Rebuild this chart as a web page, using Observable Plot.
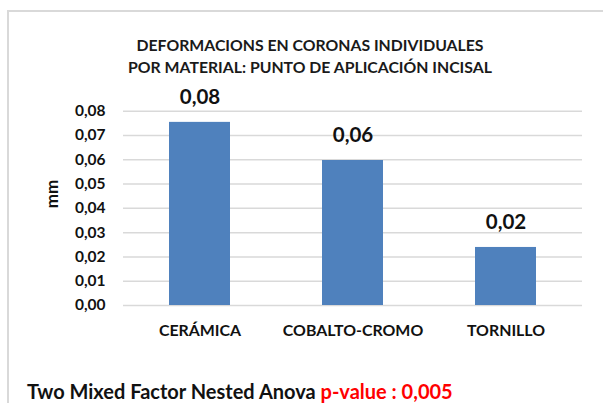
<!DOCTYPE html>
<html>
<head>
<meta charset="utf-8">
<script src="https://cdn.jsdelivr.net/npm/d3@7"></script>
<script src="https://cdn.jsdelivr.net/npm/@observablehq/plot@0.6"></script>
<style>
  html, body { margin: 0; padding: 0; background: #fff; }
  body { width: 603px; height: 403px; position: relative; overflow: hidden; font-family: Lato, "Open Sans", sans-serif; }
  #frame { position: absolute; left: 7px; top: 10px; width: 600px; height: 400px; border-left: 2px solid #d9d9d9; border-top: 2px solid #d9d9d9; box-sizing: border-box; }
  #title { position: absolute; left: 0; width: 620px; top: 34px; text-align: center; font-weight: 700; font-size: 15.8px; line-height: 22px; color: #1a1a1a; }
  #chart { position: absolute; left: 0; top: 80px; }
  #caption { position: absolute; left: 27px; top: 380px; font-weight: 700; font-size: 20px; line-height: 22px; color: #111; white-space: nowrap; }
  #caption .red { color: #ff0000; }
</style>
</head>
<body>
<div id="frame"></div>
<div id="title">DEFORMACIONS EN CORONAS INDIVIDUALES<br>POR MATERIAL: PUNTO DE APLICACIÓN INCISAL</div>
<div id="chart"></div>
<div id="caption">Two Mixed Factor Nested Anova <span class="red">p-value : 0,005</span></div>
<script>
const categories = ["CERÁMICA", "COBALTO-CROMO", "TORNILLO"];
const values = [0.0754, 0.0597, 0.0239];
const yTicks = [0, 0.01, 0.02, 0.03, 0.04, 0.05, 0.06, 0.07, 0.08];
const yLabel = "mm";

const data = categories.map((c, i) => ({cat: c, v: values[i]}));
const comma = (v, d) => d3.format("." + d + "f")(v).replace(".", ",");

const chart = Plot.plot({
  width: 603,
  height: 265,
  marginTop: 30.7,
  marginBottom: 40,
  marginLeft: 123,
  marginRight: 21,
  style: {fontFamily: "Lato, 'Open Sans', sans-serif", background: "transparent", color: "#111"},
  x: {domain: categories, paddingInner: 0.6, paddingOuter: 0.3, label: null},
  y: {domain: [0, 0.08], label: null},
  marks: [
    Plot.gridY(yTicks, {stroke: "#d9d9d9", strokeOpacity: 1, strokeWidth: 1.5}),
    Plot.axisY(yTicks, {tickSize: 0, tickPadding: 18, tickFormat: d => comma(d, 2), fontSize: 15.5, fontWeight: 700, label: null}),
    Plot.axisX({tickSize: 0, tickPadding: 19, fontSize: 15.9, fontWeight: 700, label: null}),
    Plot.barY(data, {x: "cat", y: "v", fill: "#4f81bd"}),
    Plot.text(data, {x: "cat", y: "v", text: d => comma(d.v, 2), dy: -25, fontSize: 20.5, fontWeight: 700, fill: "#111"}),
    Plot.text([yLabel], {frameAnchor: "left", dx: 52 - 123, rotate: -90, fontSize: 17, fontWeight: 700, fill: "#111", text: d => d})
  ]
});
document.getElementById("chart").appendChild(chart);
</script>
</body>
</html>
